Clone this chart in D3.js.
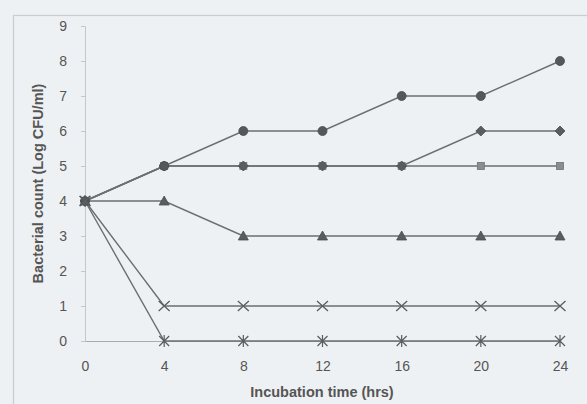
<!DOCTYPE html>
<html>
<head>
<meta charset="utf-8">
<script src="https://cdn.jsdelivr.net/npm/d3@7"></script>
<style>
  html, body { margin: 0; padding: 0; background: #eef1f3; }
  svg { display: block; }
  text { font-family: "Liberation Sans", Arial, sans-serif; fill: #555; }
</style>
</head>
<body>
<svg id="chart" width="587" height="404"></svg>
<script>
// Incubation time points (hrs)
const hours = [0, 4, 8, 12, 16, 20, 24];
const xTicks = [0, 4, 8, 12, 16, 20, 24];
const yTicks = [0, 1, 2, 3, 4, 5, 6, 7, 8, 9];

// Bacterial counts, Log CFU/ml, one array per treatment
const circleSeries   = [4, 5, 6, 6, 7, 7, 8];
const squareSeries   = [4, 5, 5, 5, 5, 5, 5];
const diamondSeries  = [4, 5, 5, 5, 5, 6, 6];
const triangleSeries = [4, 4, 3, 3, 3, 3, 3];
const crossSeries    = [4, 1, 1, 1, 1, 1, 1];
const starSeries     = [4, 0, 0, 0, 0, 0, 0];

const series = [
  { name: "square",   values: squareSeries,   fill: "#8a8d8f" },
  { name: "diamond",  values: diamondSeries,  fill: "#5a5c5e" },
  { name: "circle",   values: circleSeries,   fill: "#55585a" },
  { name: "triangle", values: triangleSeries, fill: "#5a5c5e" },
  { name: "cross",    values: crossSeries,    fill: "none" },
  { name: "star",     values: starSeries,     fill: "none" }
];

const svg = d3.select("#chart");

// Chart area frame
svg.append("rect")
  .attr("x", 13.5).attr("y", 15.5)
  .attr("width", 600).attr("height", 420)
  .attr("fill", "#eef1f3")
  .attr("stroke", "#c9cdd0").attr("stroke-width", 1.2);

const x = d3.scaleLinear().domain([0, 24]).range([85, 560]);
const y = d3.scaleLinear().domain([0, 9]).range([341, 26]);

// Y axis
const yAxis = svg.append("g")
  .attr("transform", `translate(${x(0)},0)`)
  .call(d3.axisLeft(y).tickValues(yTicks).tickSize(4).tickPadding(14));
yAxis.select(".domain").attr("stroke", "#c4c7ca");
yAxis.selectAll(".tick line").attr("stroke", "#c4c7ca");
yAxis.selectAll(".tick text")
  .attr("font-size", 14).attr("fill", "#555")
  .attr("font-family", "Liberation Sans, Arial, sans-serif");

// X axis
const xAxis = svg.append("g")
  .attr("transform", `translate(0,${y(0)})`)
  .call(d3.axisBottom(x).tickValues(xTicks).tickSize(0).tickPadding(20));
xAxis.select(".domain").attr("stroke", "#a9acae");
xAxis.selectAll(".tick text")
  .attr("font-size", 14).attr("fill", "#555")
  .attr("font-family", "Liberation Sans, Arial, sans-serif");

// Axis titles
svg.append("text")
  .attr("x", 322).attr("y", 397)
  .attr("text-anchor", "middle")
  .attr("font-size", 14.5).attr("font-weight", "bold")
  .text("Incubation time (hrs)");

svg.append("text")
  .attr("transform", `translate(43,${y(4.5)}) rotate(-90)`)
  .attr("text-anchor", "middle")
  .attr("font-size", 14.5).attr("font-weight", "bold")
  .text("Bacterial count (Log CFU/ml)");

// Lines
const line = d3.line().x((d, i) => x(hours[i])).y(d => y(d));
series.forEach(s => {
  svg.append("path")
    .datum(s.values)
    .attr("d", line)
    .attr("fill", "none")
    .attr("stroke", "#6c6f71")
    .attr("stroke-width", 1.4);
});

// Markers
const stroke = "#5a5c5e";
series.forEach(s => {
  const g = svg.append("g");
  s.values.forEach((v, i) => {
    const cx = x(hours[i]), cy = y(v);
    if (s.name === "circle") {
      g.append("circle").attr("cx", cx).attr("cy", cy).attr("r", 4.5)
        .attr("fill", s.fill).attr("stroke", "#4a4c4e").attr("stroke-width", 0.8);
    } else if (s.name === "square") {
      g.append("rect").attr("x", cx - 3.5).attr("y", cy - 3.5)
        .attr("width", 7).attr("height", 7)
        .attr("fill", s.fill).attr("stroke", "#6f7274").attr("stroke-width", 0.8);
    } else if (s.name === "diamond") {
      g.append("path")
        .attr("d", `M${cx},${cy - 5}L${cx + 5},${cy}L${cx},${cy + 5}L${cx - 5},${cy}Z`)
        .attr("fill", s.fill).attr("stroke", "#4a4c4e").attr("stroke-width", 0.8);
    } else if (s.name === "triangle") {
      g.append("path")
        .attr("d", `M${cx},${cy - 5}L${cx + 5},${cy + 4}L${cx - 5},${cy + 4}Z`)
        .attr("fill", s.fill).attr("stroke", "#4a4c4e").attr("stroke-width", 0.8);
    } else if (s.name === "cross") {
      g.append("path")
        .attr("d", `M${cx - 5.5},${cy - 5}L${cx + 5.5},${cy + 5}M${cx - 5.5},${cy + 5}L${cx + 5.5},${cy - 5}`)
        .attr("stroke", stroke).attr("stroke-width", 1.3);
    } else if (s.name === "star") {
      g.append("path")
        .attr("d", `M${cx - 5},${cy - 5}L${cx + 5},${cy + 5}M${cx - 5},${cy + 5}L${cx + 5},${cy - 5}M${cx},${cy - 6}L${cx},${cy + 6}`)
        .attr("stroke", stroke).attr("stroke-width", 1.2);
    }
  });
});
</script>
</body>
</html>
